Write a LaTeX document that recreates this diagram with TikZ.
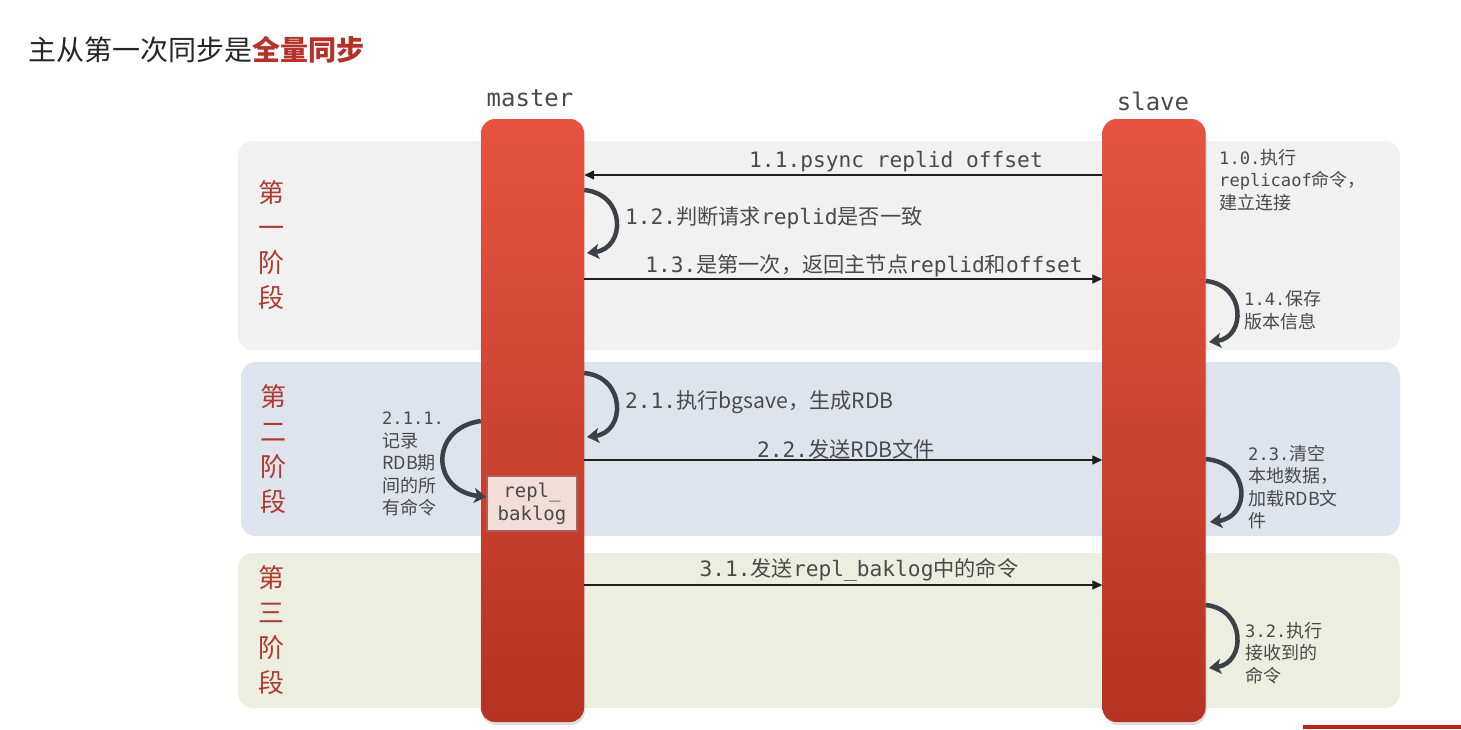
\documentclass[tikz,border=0pt]{standalone}
\usepackage{fontspec}
\setmonofont{DejaVu Sans Mono}
\newfontfamily\cjkf{Noto Sans CJK SC}
\newfontfamily\monos[Scale=0.95]{DejaVu Sans Mono}
\usetikzlibrary{arrows.meta,shadows}
\newcommand\zhs[1]{{\cjkf #1}}
\definecolor{phaseA}{HTML}{F1F1F1}
\definecolor{phaseB}{HTML}{DDE4EE}
\definecolor{phaseC}{HTML}{ECEEDF}
\definecolor{barTop}{HTML}{E65441}
\definecolor{barBot}{HTML}{B53322}
\definecolor{phaseTxt}{HTML}{AE3B2F}
\definecolor{txtGray}{HTML}{4A4A4A}
\definecolor{loopGray}{HTML}{3C4147}
\definecolor{titleRed}{HTML}{B5312A}
\definecolor{logFill}{HTML}{F2DDD9}
\definecolor{logEdge}{HTML}{A86058}
\definecolor{cornerRed}{HTML}{C21F17}
\tikzset{
  phasebox/.style={rounded corners=15pt, inner sep=0pt, draw=none},
  lifebar/.style={rounded corners=14pt, inner sep=0pt, draw=none,
    top color=barTop, bottom color=barBot, minimum width=103pt, minimum height=603pt,
    drop shadow={shadow xshift=1pt, shadow yshift=-3pt, opacity=0.25}},
  phaselbl/.style={font=\fontsize{26}{35}\selectfont\cjkf, text=phaseTxt, align=center, inner sep=0pt},
  lbl/.style={font=\fontsize{21.2}{24}\selectfont\ttfamily, text=txtGray, inner sep=0pt},
  small/.style={font=\fontsize{18}{22.5}\selectfont\monos, text=txtGray, inner sep=0pt, align=left},
  msg/.style={line width=1.3pt, draw=black!88, -{Triangle[length=10pt,width=9pt]}},
  selfloop/.style={line width=4.5pt, draw=loopGray, -{Stealth[length=12pt,width=15pt,inset=3pt]}},
}
\begin{document}
\begin{tikzpicture}[x=1pt,y=-1pt]
\useasboundingbox (0,0) rectangle (1461,729);
\fill[white] (0,0) rectangle (1461,729);

% title
\node[anchor=west, inner sep=0pt, font=\fontsize{28}{32}\selectfont\cjkf, text=black!85] (title) at (28,50)
  {主从第一次同步是{\bfseries\color{titleRed}全量同步}};

% phase boxes
\node[phasebox, fill=phaseA, minimum width=1162pt, minimum height=209pt] (P1) at (819,245.5) {};
\node[phasebox, fill=phaseB, minimum width=1159pt, minimum height=174pt] (P2) at (820.5,449) {};
\node[phasebox, fill=phaseC, minimum width=1162pt, minimum height=155pt] (P3) at (819,630.5) {};

% phase labels
\node[phaselbl] (L1) at (271,245) {第\\一\\阶\\段};
\node[phaselbl] (L2) at (273,449) {第\\二\\阶\\段};
\node[phaselbl] (L3) at (271,630) {第\\三\\阶\\段};

% lifelines
\node[lifebar] (M) at (532.5,420.5) {};
\node[lifebar] (S) at (1154,420.5) {};
\node[font=\fontsize{24}{28}\selectfont\ttfamily, text=txtGray, inner sep=0pt] (Mname) at (530,98) {master};
\node[font=\fontsize{24}{28}\selectfont\ttfamily, text=txtGray, inner sep=0pt] (Sname) at (1153,101) {slave};

% repl_baklog box
\node[draw=logEdge, line width=1.5pt, fill=logFill, minimum width=90pt, minimum height=55pt, inner sep=0pt,
  align=center, font=\fontsize{19}{23}\selectfont\ttfamily, text=txtGray] (B) at (532,503.5) {repl\_\\baklog};

% phase 1
\draw[msg] (S.west |- 0,175) -- (M.east |- 0,175);
\node[lbl] (t11) at (896,162) {1.1.psync replid offset};
\draw[selfloop] (M.east |- 0,190) .. controls (626,194) and (626,248) .. (587,253);
\node[lbl, anchor=west] (t12) at (625,218) {1.2.\zhs{判断请求}replid\zhs{是否一致}};
\draw[msg] (M.east |- 0,279) -- (S.west |- 0,279);
\node[lbl] (t13) at (864,266) {1.3.\zhs{是第一次，返回主节点}replid\zhs{和}offset};
\node[small, anchor=north west] (t10) at (1219,149) {1.0.\zhs{执行}\\replicaof\zhs{命令，}\\\zhs{建立连接}};
\draw[selfloop] (S.east |- 0,281) .. controls (1246,285) and (1246,337) .. (1209,342);
\node[small, anchor=west] (t14) at (1244,310) {1.4.\zhs{保存}\\\zhs{版本信息}};

% phase 2
\draw[selfloop] (M.east |- 0,373) .. controls (626,377) and (626,432) .. (587,437);
\node[lbl, anchor=west] (t21) at (625,402) {2.1.\zhs{执行bgsave，生成RDB}};
\draw[msg] (M.east |- 0,460) -- (S.west |- 0,460);
\node[lbl] (t22) at (846,449) {2.2.\zhs{发送RDB文件}};
\draw[selfloop] (S.east |- 0,459) .. controls (1251,463) and (1251,517) .. (1210,522);
\node[small, anchor=west] (t23) at (1248,487) {2.3.\zhs{清空}\\\zhs{本地数据，}\\\zhs{加载RDB文}\\\zhs{件}};
\draw[selfloop] (M.west |- 0,421) .. controls (430,428) and (430,490) .. (B.west |- 0,497);
\node[small, anchor=west] (t211) at (382,464) {2.1.1.\\\zhs{记录}\\\zhs{RDB期}\\\zhs{间的所}\\\zhs{有命令}};

% phase 3
\draw[msg] (M.east |- 0,585) -- (S.west |- 0,585);
\node[lbl] (t31) at (859,570) {3.1.\zhs{发送}repl\_baklog\zhs{中的命令}};
\draw[selfloop] (S.east |- 0,605) .. controls (1246,609) and (1246,663) .. (1209,668);
\node[small, anchor=west] (t32) at (1245,653) {3.2.\zhs{执行}\\\zhs{接收到的}\\\zhs{命令}};

% corner fragment
\fill[cornerRed] (1303,725) rectangle (1461,729);
\end{tikzpicture}
\end{document}
